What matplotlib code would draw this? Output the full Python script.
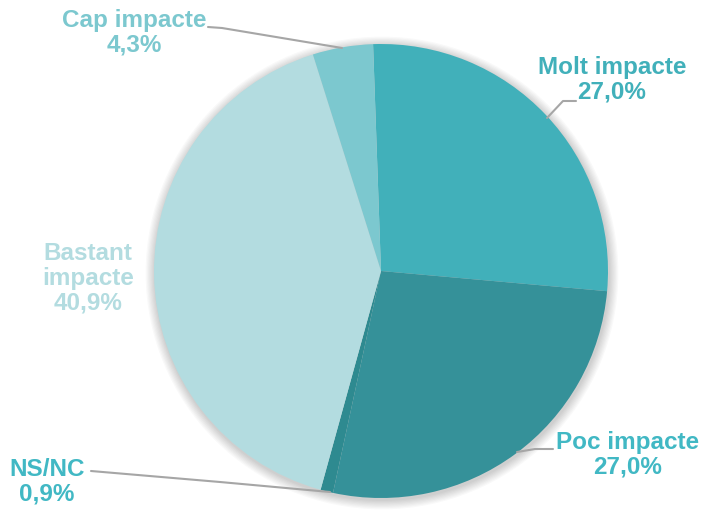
import matplotlib.pyplot as plt
from matplotlib.patches import Circle

plt.rcParams['font.family'] = ['Liberation Sans', 'DejaVu Sans']

labels = ['Molt impacte', 'Poc impacte', 'NS/NC', 'Bastant\nimpacte', 'Cap impacte']
values = [27.0, 27.0, 0.9, 40.9, 4.3]
colors = ['#41B0BA', '#359199', '#2E8A90', '#B3DCE0', '#7CC8CF']
text_colors = ['#41B0BA', '#41B8C4', '#41B8C4', '#B3DCE0', '#7CC8CF']

W, H = 705, 513
fig = plt.figure(figsize=(W / 100, H / 100), dpi=100)
ax = fig.add_axes([0, 0, 1, 1])

cx, cy, r = 381, H - 271, 227

# soft shadow
for i in range(8):
    ax.add_patch(Circle((cx + 1, cy - 2), r + 1 + i * 1.2, color='#000000',
                        alpha=0.025, lw=0, zorder=0))

ax.pie(values, colors=colors, startangle=92, counterclock=False,
       center=(cx, cy), radius=r, frame=True,
       wedgeprops=dict(linewidth=0))
ax.set_xlim(0, W)
ax.set_ylim(0, H)
ax.set_aspect('equal')
ax.axis('off')

# label positions (pixel coords, y from top) and leader lines
label_pos = [(612, 80), (628, 455), (47, 482), (88, 278), (134, 33)]
leaders = [
    [(547, 118), (563, 101), (576, 101)],
    [(517, 452), (535, 449), (553, 449)],
    [(330, 492), (220, 482), (91, 471)],
    None,
    [(208, 27), (222, 28), (342, 48)],
]

for lab, v, tc, (x, y), ld in zip(labels, values, text_colors, label_pos, leaders):
    txt = lab + '\n' + f'{v:.1f}%'.replace('.', ',')
    ax.text(x, H - y, txt, ha='center', va='center', fontsize=17.5,
            fontweight='bold', color=tc, linespacing=1.1)
    if ld:
        xs = [p[0] for p in ld]
        ys = [H - p[1] for p in ld]
        ax.plot(xs, ys, color='#A6A6A6', lw=1.5, solid_capstyle='round')

fig.savefig('out.png', dpi=100)
